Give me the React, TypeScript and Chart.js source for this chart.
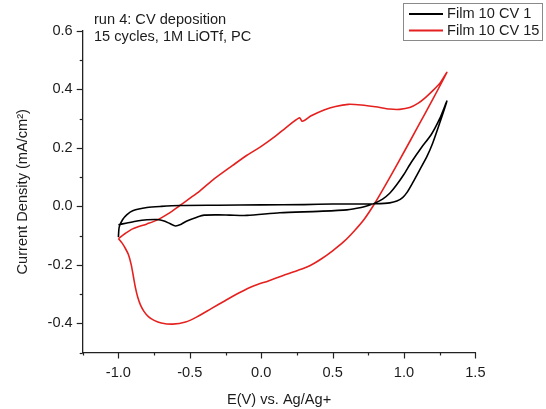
import React, { useEffect, useRef } from "react";
import { Chart, registerables } from "chart.js";

Chart.register(...registerables);

// Film 10 CV 1 (black): potential (V) and current density (mA/cm²)
const cv1E = [
  -1.0, -0.994, -0.97, -0.94, -0.9, -0.8, -0.7, -0.57, -0.3, 0.0, 0.3, 0.5, 0.7, 0.8, 0.9, 0.95, 0.99,
  1.02, 1.06, 1.11, 1.16, 1.2, 1.25, 1.3,
  1.25, 1.19, 1.12, 1.05, 1.0, 0.95, 0.9, 0.85, 0.8, 0.75, 0.7, 0.6, 0.4, 0.13, -0.1, -0.22, -0.3,
  -0.4, -0.45, -0.52, -0.56, -0.6, -0.64, -0.68, -0.73, -0.8, -0.87, -0.94, -1.0,
];
const cv1J = [
  -0.105, -0.07, -0.045, -0.028, -0.015, -0.004, 0.0, 0.003, 0.004, 0.005, 0.006, 0.008, 0.008, 0.009, 0.012, 0.018, 0.03,
  0.047, 0.08, 0.125, 0.17, 0.215, 0.285, 0.36,
  0.3, 0.245, 0.2, 0.15, 0.11, 0.075, 0.045, 0.025, 0.012, 0.003, -0.004, -0.012, -0.017, -0.022, -0.031, -0.03, -0.029,
  -0.03, -0.037, -0.05, -0.061, -0.067, -0.059, -0.05, -0.045, -0.046, -0.05, -0.057, -0.063,
];

// Film 10 CV 15 (red)
const cv15E = [
  -1.0, -0.95, -0.9, -0.8, -0.73, -0.65, -0.57, -0.45, -0.34, -0.2, -0.1, 0.0, 0.1, 0.17, 0.268, 0.288,
  0.35, 0.44, 0.52, 0.61, 0.7, 0.8, 0.9, 0.97, 1.04, 1.1, 1.15, 1.2, 1.25, 1.3,
  1.2, 1.1, 1.0, 0.9, 0.8, 0.72, 0.65, 0.58, 0.5, 0.42, 0.34, 0.25, 0.15, 0.05, -0.05, -0.15, -0.25,
  -0.35, -0.45, -0.53, -0.62, -0.7, -0.75, -0.79, -0.82, -0.845, -0.865, -0.88, -0.895, -0.91, -0.93,
  -0.95, -0.975, -1.0,
];
const cv15J = [
  -0.11, -0.092, -0.077, -0.06, -0.047, -0.025, 0.003, 0.045, 0.09, 0.14, 0.175, 0.205, 0.24, 0.268, 0.303, 0.291,
  0.31, 0.33, 0.342, 0.349, 0.347, 0.341, 0.333, 0.332, 0.338, 0.353, 0.372, 0.395, 0.42, 0.458,
  0.365, 0.275, 0.186, 0.098, 0.014, -0.045, -0.085, -0.12, -0.152, -0.18, -0.203, -0.22, -0.237, -0.255, -0.272, -0.295, -0.322,
  -0.35, -0.378, -0.396, -0.403, -0.399, -0.39, -0.377, -0.36, -0.338, -0.31, -0.28, -0.24, -0.2, -0.165,
  -0.145, -0.125, -0.11,
];

const seriesNames = ["Film 10 CV 1", "Film 10 CV 15"];
const seriesColors = ["#000000", "#e5211f"];
const noteLines = ["run 4: CV deposition", "15 cycles, 1M LiOTf, PC"];
const xTitle = "E(V) vs. Ag/Ag+";
const yTitle = "Current Density (mA/cm\u00B2)";
const xRange = [-1.25, 1.5];
const yRange = [-0.5, 0.6];

const FONT = '"Liberation Sans", Arial, Helvetica, sans-serif';
const FS = 14.6;
const TEXT = "#1c1c1c";
const AXIS = "#222222";

const toPts = (xs: number[], ys: number[]) => xs.map((x, i) => ({ x, y: ys[i] }));

const isMult = (v: number, step: number) => Math.abs(v / step - Math.round(v / step)) < 1e-6;
const fmt = (v: number) => {
  let r = Math.round(v * 10) / 10;
  if (Object.is(r, -0)) r = 0;
  return r.toFixed(1);
};

const decorPlugin = {
  id: "decor",
  afterDraw(chart: any) {
    const ctx = chart.ctx;
    const xs = chart.scales.x;
    const ys = chart.scales.y;
    const area = chart.chartArea;
    ctx.save();
    ctx.strokeStyle = AXIS;
    ctx.lineWidth = 1.2;
    // x ticks (outward)
    for (let k = 0; ; k++) {
      const v = xRange[0] + k * 0.25;
      if (v > xRange[1] + 1e-9) break;
      const px = Math.round(xs.getPixelForValue(v)) + 0.5;
      const len = isMult(v, 0.5) ? 6 : 3;
      ctx.beginPath();
      ctx.moveTo(px, area.bottom);
      ctx.lineTo(px, area.bottom + len);
      ctx.stroke();
    }
    // y ticks (outward)
    for (let k = 0; ; k++) {
      const v = yRange[0] + k * 0.1;
      if (v > yRange[1] + 1e-9) break;
      const py = Math.round(ys.getPixelForValue(v)) + 0.5;
      const len = isMult(v, 0.2) ? 6 : 3;
      ctx.beginPath();
      ctx.moveTo(area.left, py);
      ctx.lineTo(area.left - len, py);
      ctx.stroke();
    }
    // notes
    ctx.fillStyle = TEXT;
    ctx.font = `${FS}px ${FONT}`;
    ctx.textAlign = "left";
    ctx.textBaseline = "middle";
    ctx.fillText(noteLines[0], 94, 20);
    ctx.fillText(noteLines[1], 94, 36.5);
    // legend box
    ctx.strokeStyle = "#8a8a8a";
    ctx.lineWidth = 1;
    ctx.strokeRect(403.5, 3.5, 139, 37);
    const rowsY = [14, 30.5];
    for (let i = 0; i < seriesNames.length; i++) {
      ctx.strokeStyle = seriesColors[i];
      ctx.lineWidth = 1.8;
      ctx.beginPath();
      ctx.moveTo(409, rowsY[i]);
      ctx.lineTo(443, rowsY[i]);
      ctx.stroke();
      ctx.fillStyle = TEXT;
      ctx.fillText(seriesNames[i], 447, rowsY[i]);
    }
    ctx.restore();
  },
};

export default function App() {
  const ref = useRef<HTMLCanvasElement | null>(null);
  useEffect(() => {
    document.body.style.margin = "0";
    const canvas = ref.current;
    if (!canvas) return;
    const chart = new Chart(canvas, {
      type: "line",
      data: {
        datasets: [
          {
            label: seriesNames[0],
            data: toPts(cv1E, cv1J),
            borderColor: seriesColors[0],
            backgroundColor: seriesColors[0],
          },
          {
            label: seriesNames[1],
            data: toPts(cv15E, cv15J),
            borderColor: seriesColors[1],
            backgroundColor: seriesColors[1],
          },
        ],
      },
      options: {
        responsive: false,
        animation: false,
        layout: { padding: { top: 31, right: 70.6, left: 0, bottom: 0 } },
        elements: {
          point: { radius: 0, hoverRadius: 0 },
          line: { borderWidth: 1.6, tension: 0.25, fill: false },
        },
        plugins: {
          legend: { display: false },
          tooltip: { enabled: false },
        },
        scales: {
          x: {
            type: "linear",
            min: xRange[0],
            max: xRange[1],
            afterFit: (s: any) => {
              s.height = 56.5;
            },
            ticks: {
              stepSize: 0.25,
              autoSkip: false,
              maxRotation: 0,
              padding: 12,
              color: TEXT,
              font: { family: FONT, size: FS },
              callback: (v: any) => (isMult(Number(v), 0.5) ? fmt(Number(v)) : ""),
            },
            grid: { drawOnChartArea: false, drawTicks: false },
            border: { display: true, color: AXIS, width: 1.3 },
            title: {
              display: true,
              text: xTitle,
              color: TEXT,
              font: { family: FONT, size: FS },
              padding: { top: 0, bottom: 0 },
            },
          },
          y: {
            type: "linear",
            min: yRange[0],
            max: yRange[1],
            afterFit: (s: any) => {
              s.width = 82.7;
            },
            ticks: {
              stepSize: 0.1,
              autoSkip: false,
              padding: 10,
              color: TEXT,
              font: { family: FONT, size: FS },
              callback: (v: any) => (isMult(Number(v), 0.2) ? fmt(Number(v)) : ""),
            },
            grid: { drawOnChartArea: false, drawTicks: false },
            border: { display: true, color: AXIS, width: 1.3 },
            title: {
              display: true,
              text: yTitle,
              color: TEXT,
              font: { family: FONT, size: FS },
              padding: { top: 14.6, bottom: 0 },
            },
          },
        },
      },
      plugins: [decorPlugin],
    });
    return () => chart.destroy();
  }, []);
  return (
    <div style={{ width: 546, height: 409, background: "#fff" }}>
      <canvas ref={ref} width={546} height={409} style={{ display: "block" }} />
    </div>
  );
}
